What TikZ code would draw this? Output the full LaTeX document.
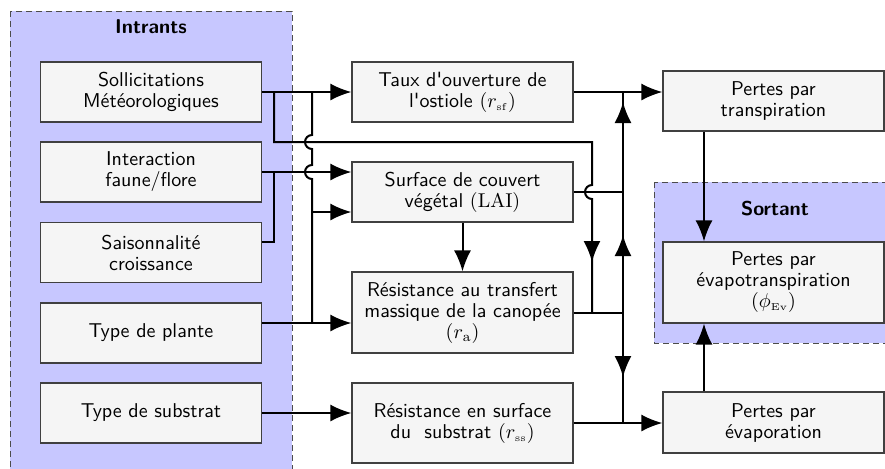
\documentclass[tikz,border=0pt]{standalone}
\usetikzlibrary{arrows.meta}
\newcommand{\groupecol}{blue!22}
\newcommand{\boitecol}{black!4}
\newcommand{\traitcol}{black!75}

\begin{document}
\begin{tikzpicture}[x=0.5pt, y=-0.5pt,
    boite/.style={draw=\traitcol, fill=\boitecol, line width=0.6pt, align=center,
      minimum width=110.5pt, inner sep=2pt,
      font=\sffamily\fontsize{10}{10.5}\selectfont},
    groupe/.style={draw=black!70, fill=\groupecol, densely dashed, line width=0.4pt},
    titre/.style={font=\sffamily\bfseries\fontsize{10}{12}\selectfont},
    lien/.style={line width=1pt},
    fleche/.style={lien, -{Latex[length=10.5pt, width=8.5pt]}}]

    \clip (0, 0) rectangle (885, 468);

    % les groupes
    \draw[groupe] (10, 11) rectangle (292, 490);
    \node[titre] (intrants) at (151, 27) {Intrants};
    \draw[groupe] (654, 182) rectangle (900, 343);
    \node[titre] (sortant) at (775, 209) {Sortant};

    % intrants
    \node[boite, minimum height=30pt] (solli) at (151, 92) {Sollicitations\\M\'et\'eorologiques};
    \node[boite, minimum height=30pt] (inter) at (151, 172) {Interaction\\faune/flore};
    \node[boite, minimum height=30pt] (saison) at (151, 252.5) {Saisonnalit\'e\\croissance};
    \node[boite, minimum height=30pt] (plante) at (151, 333) {Type de plante};
    \node[boite, minimum height=30pt] (typesub) at (151, 413) {Type de substrat};

    % processus
    \node[boite, minimum height=30pt] (taux) at (462.5, 92) {Taux d\textquotesingle ouverture de\\l\textquotesingle ostiole $(r_{\scriptscriptstyle\mathrm{sf}})$};
    \node[boite, minimum height=30pt] (surface) at (462.5, 192) {Surface de couvert\\v\'eg\'etal $(\mathrm{LAI})$};
    \node[boite, minimum height=40.5pt] (canopee) at (462.5, 312.5) {R\'esistance au transfert\\massique de la canop\'ee\\$(r_{\mathrm{a}})$};
    \node[boite, minimum height=40pt] (ressub) at (462.5, 423) {R\'esistance en surface\\du~ substrat $(r_{\scriptscriptstyle\mathrm{ss}})$};

    % pertes
    \node[boite, minimum height=30pt] (transp) at (773.5, 101) {Pertes par\\transpiration};
    \node[boite, minimum height=40.5pt] (evapo) at (773.5, 282.5) {Pertes par\\\'evapotranspiration\\$(\phi_{\scriptscriptstyle\mathrm{Ev}})$};
    \node[boite, minimum height=30.5pt] (evap) at (773.5, 422.5) {Pertes par\\\'evaporation};

    % points de jonction
    \coordinate (a1) at (274, 92);
    \coordinate (a2) at (312, 92);
    \coordinate (b1) at (274, 142);
    \coordinate (b2) at (592, 142);
    \coordinate (c9) at (592, 225);
    \coordinate (c0) at (592, 262);
    \coordinate (c1) at (592, 312.5);
    \coordinate (d1) at (274, 172);
    \coordinate (d2) at (274, 242);
    \coordinate (e1) at (312, 212);
    \coordinate (e2) at (312, 323);
    \coordinate (f1) at (623, 92);
    \coordinate (f2) at (623, 192);
    \coordinate (f3) at (623, 312.5);
    \coordinate (f4) at (623, 423);
    \coordinate (g1) at (623, 102);
    \coordinate (g2) at (623, 235);
    \coordinate (g3) at (623, 377);
    \coordinate (h) at (704, 0);

    % entrees
    \draw[fleche] (solli.east) -- (taux.west);
    \draw[lien] (a1) -- (b1) -- (b2) -- ++(0, 43) arc[start angle=90, end angle=270, radius=3.5pt] -- (c1);
    \draw[fleche] (c9) -- (c0);
    \draw[lien] (a2) -- ++(0, 43) arc[start angle=90, end angle=270, radius=3.5pt]
        -- ++(0, 16) arc[start angle=90, end angle=270, radius=3.5pt] -- (e2);
    \draw[fleche] (e1) -- (surface.west |- e1);
    \draw[fleche] (inter.east) -- (inter.east -| surface.west);
    \draw[lien] (saison.east |- d2) -- (d2) -- (d1);
    \draw[fleche] (plante.east |- e2) -- (canopee.west |- e2);
    \draw[fleche] (typesub.east) -- (typesub.east -| ressub.west);
    \draw[fleche] (surface.south) -- (canopee.north);

    % sorties
    \draw[fleche] (taux.east) -- (transp.west |- taux.east);
    \draw[lien] (surface.east) -- (f2);
    \draw[lien] (canopee.east) -- (f3);
    \draw[fleche] (ressub.east) -- (ressub.east -| evap.west);
    \draw[lien] (f4) -- (f1);
    \draw[fleche] (f3) -- (g2);
    \draw[fleche] (f2) -- (g1);
    \draw[fleche] (f3) -- (g3);
    \draw[fleche] (transp.south -| h) -- (evapo.north -| h);
    \draw[fleche] (evap.north -| h) -- (evapo.south -| h);

\end{tikzpicture}
\end{document}
